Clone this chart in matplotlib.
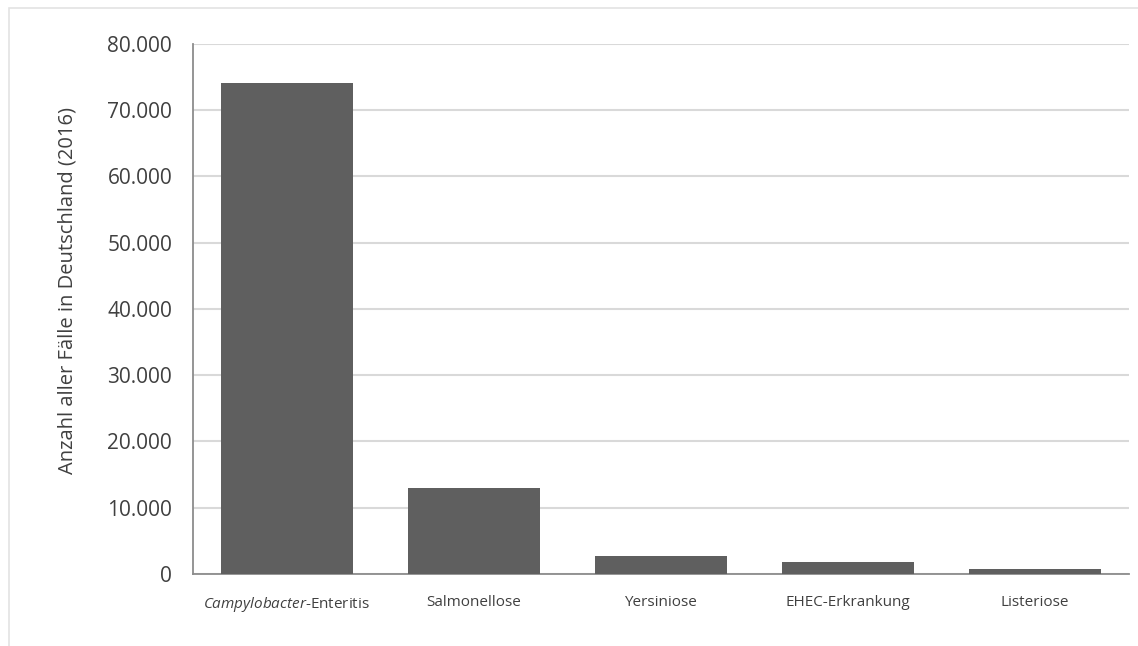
import matplotlib
matplotlib.use("Agg")
import matplotlib.pyplot as plt
from matplotlib.ticker import FuncFormatter, MultipleLocator
from matplotlib.patches import Rectangle

# Gemeldete Fälle 2016 (Deutschland)
categories = [r"$\it{Campylobacter}$-Enteritis", "Salmonellose", "Yersiniose",
              "EHEC-Erkrankung", "Listeriose"]
cases = [74069, 12962, 2767, 1842, 706]

plt.rcParams['font.family'] = ['Open Sans', 'DejaVu Sans']
plt.rcParams['mathtext.fontset'] = 'custom'
plt.rcParams['mathtext.it'] = 'Open Sans:italic'
plt.rcParams['mathtext.rm'] = 'Open Sans'

fig = plt.figure(figsize=(11.38, 6.46), dpi=100)
ax = fig.add_axes([0.1696, 0.1115, 0.8223, 0.8205])

# light frame round the chart (top and left edges only visible)
fig.patches.append(Rectangle((9 / 1138, -0.01), 1.1, 1 - 8 / 646 + 0.01,
                             transform=fig.transFigure, fill=False,
                             edgecolor='#e3e3e3', linewidth=1.2))

x = range(len(categories))
ax.bar(x, cases, width=0.705, color='#5f5f5f', zorder=3)

ax.set_xlim(-0.5, len(categories) - 0.5)
ax.set_ylim(0, 80000)
ax.yaxis.set_major_locator(MultipleLocator(10000))
ax.yaxis.set_major_formatter(FuncFormatter(lambda v, p: f"{int(v):,}".replace(",", ".")))
ax.grid(axis='y', color='#d9d9d9', linewidth=1.5, zorder=0)

ax.set_xticks(list(x))
ax.set_xticklabels(categories, fontsize=11, color='#404040')
ax.tick_params(axis='x', length=0, pad=15)
ax.tick_params(axis='y', length=0, pad=15, labelsize=15, labelcolor='#404040')

for s in ['top', 'right']:
    ax.spines[s].set_visible(False)
ax.spines['left'].set_color('#8c8c8c')
ax.spines['left'].set_linewidth(1.3)
ax.spines['bottom'].set_color('#8c8c8c')
ax.spines['bottom'].set_linewidth(1.3)

ax.set_ylabel("Anzahl aller Fälle in Deutschland (2016)", fontsize=14.5,
              color='#404040')
ax.yaxis.set_label_coords(-0.123, 0.535)

fig.savefig("out.png", dpi=100)
